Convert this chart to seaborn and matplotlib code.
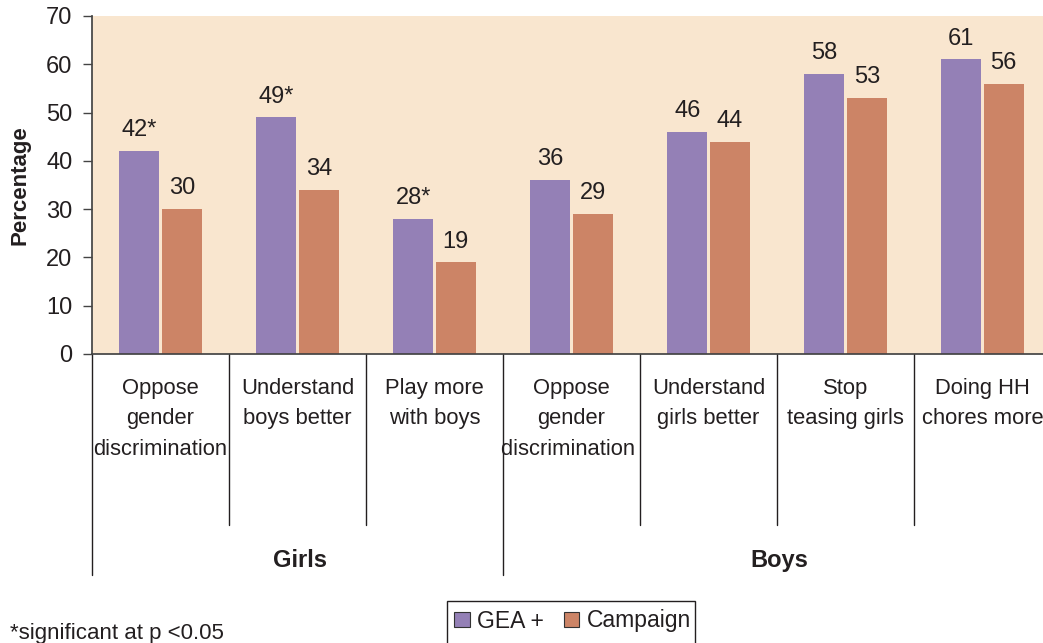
import numpy as np
import pandas as pd
import matplotlib
matplotlib.use("Agg")
import matplotlib.pyplot as plt
from matplotlib.patches import Patch, Rectangle
from matplotlib.transforms import blended_transform_factory
import seaborn as sns

# Outcome categories (x axis), split into respondent groups
categories = [
    "Oppose\ngender\ndiscrimination",
    "Understand\nboys better",
    "Play more\nwith boys",
    "Oppose\ngender\ndiscrimination ",
    "Understand\ngirls better",
    "Stop\nteasing girls",
    "Doing HH\nchores more",
]
groups = ["Girls", "Boys"]
group_sizes = [3, 4]

series_names = ["GEA +", "Campaign"]
gea_values = [42, 49, 28, 36, 46, 58, 61]
campaign_values = [30, 34, 19, 29, 44, 53, 56]
gea_labels = ["42*", "49*", "28*", "36", "46", "58", "61"]
campaign_labels = ["30", "34", "19", "29", "44", "53", "56"]

yticks = [0, 10, 20, 30, 40, 50, 60, 70]
footnote = "*significant at p <0.05"

df = pd.DataFrame({
    "category": categories * 2,
    "series": [series_names[0]] * len(categories) + [series_names[1]] * len(categories),
    "value": gea_values + campaign_values,
    "label": gea_labels + campaign_labels,
})

sns.set_theme(style="white")
plt.rcParams["font.family"] = ["Liberation Sans", "DejaVu Sans"]

purple = "#9480B6"
orange = "#CC8466"
bg = "#F9E6CF"
ink = "#231F20"

W, H = 1043, 643
fig = plt.figure(figsize=(W / 100, H / 100), dpi=100)
# the plot area runs slightly past the right edge of the canvas
ax = fig.add_axes([92 / W, 289 / H, 959 / W, 338 / H])
ax.set_facecolor(bg)

sns.barplot(
    data=df, x="category", y="value", hue="series",
    order=categories, hue_order=series_names,
    palette=[purple, orange], width=0.62, gap=0.06,
    saturation=1, errorbar=None, legend=False, ax=ax,
    linewidth=0, edgecolor="none",
)

# value labels above each bar
for container, labels in zip(ax.containers, [gea_labels, campaign_labels]):
    ax.bar_label(container, labels=labels, padding=7, fontsize=17, color=ink)

ax.set_ylim(0, 70)
ax.set_xlim(-0.5, len(categories) - 0.5)
ax.set_yticks(yticks)
ax.set_yticklabels([str(t) for t in yticks], fontsize=17, color=ink)
ax.tick_params(axis="y", direction="out", length=6.5, width=1, color="#444444", left=True, pad=7.5)
ax.tick_params(axis="x", length=0, pad=17.5, labelsize=15.8, labelcolor=ink)
for lbl in ax.get_xticklabels():
    lbl.set_linespacing(1.57)
    lbl.set_verticalalignment("top")

ax.set_xlabel("")
ax.set_ylabel("Percentage", fontsize=16, fontweight="bold", color=ink, labelpad=11)

for side in ["top", "right"]:
    ax.spines[side].set_visible(False)
ax.spines["left"].set_color("#444444")
ax.spines["bottom"].set_color("#444444")

# separators between categories and between groups
trans = blended_transform_factory(ax.transData, ax.transAxes)
group_edges = np.cumsum([0] + group_sizes) - 0.5
for xi in np.arange(-0.5, len(categories) - 0.5, 1.0):
    depth = -0.655 if np.any(np.isclose(group_edges[:-1], xi)) else -0.505
    ax.plot([xi, xi], [0, depth], transform=trans, color=ink, lw=1, clip_on=False)

# group labels
starts = group_edges[:-1]
for name, start, size in zip(groups, starts, group_sizes):
    center = start + size / 2
    ax.text(center + 0.02, -0.61, name, transform=trans,
            ha="center", va="center", fontsize=17, fontweight="bold", color=ink)

# legend with a plain rectangular frame
handles = [Patch(facecolor=c, edgecolor="#333333", linewidth=0.8) for c in (purple, orange)]
leg = fig.legend(handles, series_names, loc="center left", bbox_to_anchor=(454 / W, 22 / H),
                 ncol=2, frameon=False, fontsize=16.5, handlelength=0.68, handleheight=0.68,
                 handletextpad=0.33, columnspacing=0.85, borderpad=0, borderaxespad=0)
for t in leg.get_texts():
    t.set_color(ink)
fig.patches.append(Rectangle((447 / W, -0.01), 248 / W, (H - 601) / H + 0.01,
                             transform=fig.transFigure, fill=False, edgecolor=ink,
                             linewidth=1, clip_on=False))

fig.text(10 / W, 9 / H, footnote, ha="left", va="center", fontsize=16, color=ink)

fig.savefig("out.png", dpi=100)
